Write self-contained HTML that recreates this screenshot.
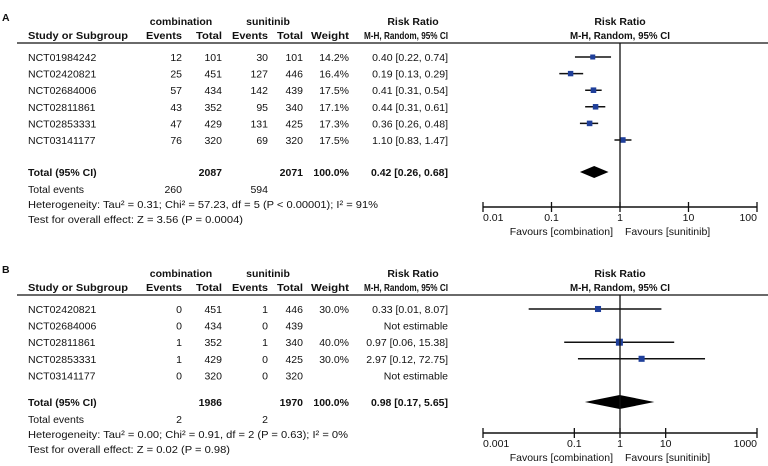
<!DOCTYPE html>
<html><head><meta charset="utf-8"><style>
body{margin:0;background:#fff}
svg{display:block;font-family:"Liberation Sans",Arial,sans-serif;font-size:10.5px;fill:#111}
.b{font-weight:bold}
</style></head><body>
<svg id="c" width="768" height="466" viewBox="0 0 768 466"></svg>
<script>
const studiesA=["NCT01984242","NCT02420821","NCT02684006","NCT02811861","NCT02853331","NCT03141177"];
const ev1A=["12","25","57","43","47","76"];
const tot1A=["101","451","434","352","429","320"];
const ev2A=["30","127","142","95","131","69"];
const tot2A=["101","446","439","340","425","320"];
const weightA=[14.2,16.4,17.5,17.1,17.3,17.5];
const rrA=[0.40,0.19,0.41,0.44,0.36,1.10];
const loA=[0.22,0.13,0.31,0.31,0.26,0.83];
const hiA=[0.74,0.29,0.54,0.61,0.48,1.47];
const totalA=[0.42,0.26,0.68];
const ticksA=["0.01","0.1","1","10","100"];

const studiesB=["NCT02420821","NCT02684006","NCT02811861","NCT02853331","NCT03141177"];
const ev1B=["0","0","1","1","0"];
const tot1B=["451","434","352","429","320"];
const ev2B=["1","0","1","0","0"];
const tot2B=["446","439","340","425","320"];
const weightB=[30.0,null,40.0,30.0,null];
const rrB=[0.33,null,0.97,2.97,null];
const loB=[0.01,null,0.06,0.12,null];
const hiB=[8.07,null,15.38,72.75,null];
const totalB=[0.98,0.17,5.65];
const ticksB=["0.001","0.1","1","10","1000"];

const svg=document.getElementById('c');
const NS="http://www.w3.org/2000/svg";
function el(tag,attrs,name,txt){const e=document.createElementNS(NS,tag);for(const k in attrs)e.setAttribute(k,attrs[k]);


if(txt!==undefined)e.textContent=txt;svg.appendChild(e);return e;}
function t(x,y,s,name,anchor,bold,len){const a={x:x,y:y,'text-anchor':anchor||'start',class:bold?'b':''};
 if(len){a.textLength=len;a.lengthAdjust='spacingAndGlyphs';}
 return el('text',a,name,s);}
function f2(v){return v.toFixed(2);}

function panel(o){
  const X0=483,X1=757;
  const lmin=Math.log10(o.min),lmax=Math.log10(o.max);
  const xs=v=>X0+(Math.log10(v)-lmin)/(lmax-lmin)*(X1-X0);
  const y0=o.y0;
  t(2,y0-24,o.label,'panel-label','start',true);
  t(181,y0-20,'combination','group-header-combination','middle',true);
  t(268,y0-20,'sunitinib','group-header-sunitinib','middle',true);
  t(413,y0-20,'Risk Ratio','rr-header','middle',true);
  t(620,y0-20,'Risk Ratio','plot-header','middle',true);
  t(28,y0-6,'Study or Subgroup','study-header','start',true,100);
  t(182,y0-6,'Events','events-header','end',true,36);
  t(222,y0-6,'Total','total-header','end',true,26);
  t(268,y0-6,'Events','events-header','end',true,36);
  t(303,y0-6,'Total','total-header','end',true,26);
  t(349,y0-6,'Weight','weight-header','end',true,38);
  t(448,y0-6,'M-H, Random, 95% CI','rr-ci-header','end',true,84);
  t(620,y0-6,'M-H, Random, 95% CI','plot-ci-header','middle',true,100);
  el('line',{x1:17,x2:768,y1:y0-2,y2:y0-2,stroke:'#111','stroke-width':1.3},'header-rule');
  const rowY=i=>y0+12+i*16.6;
  o.st.forEach((s,i)=>{
    const y=rowY(i)+4;
    t(28,y,s,'study-name');
    t(182,y,o.e1[i],'events-combination','end');
    t(222,y,o.t1[i],'total-combination','end');
    t(268,y,o.e2[i],'events-sunitinib','end');
    t(303,y,o.t2[i],'total-sunitinib','end');
    if(o.w[i]!=null)t(349,y,o.w[i].toFixed(1)+'%','weight','end');
    if(o.rr[i]!=null){
      t(448,y,f2(o.rr[i])+' ['+f2(o.lo[i])+', '+f2(o.hi[i])+']','risk-ratio-ci','end');
      const cy=rowY(i);
      el('line',{x1:xs(o.lo[i]),x2:xs(o.hi[i]),y1:cy,y2:cy,stroke:'#111','stroke-width':1.5},'ci-line');
      const sz=o.sq*Math.sqrt(o.w[i]/o.wref);
      el('rect',{x:xs(o.rr[i])-sz/2,y:cy-sz/2,width:sz,height:sz,fill:'#1f3f9a'},'point-estimate');
    } else t(448,y,'Not estimable','risk-ratio-ci','end');
  });
  const ty=o.totY;
  t(28,ty+4,'Total (95% CI)','total-label','start',true);
  t(222,ty+4,o.tt1,'total-combination','end',true);
  t(303,ty+4,o.tt2,'total-sunitinib','end',true);
  t(349,ty+4,'100.0%','total-weight','end',true);
  t(448,ty+4,f2(o.tot[0])+' ['+f2(o.tot[1])+', '+f2(o.tot[2])+']','total-risk-ratio','end',true);
  const dh=o.dh;
  el('polygon',{points:`${xs(o.tot[1])},${ty} ${xs(o.tot[0])},${ty-dh} ${xs(o.tot[2])},${ty} ${xs(o.tot[0])},${ty+dh}`,fill:'#000'},'pooled-diamond');
  t(28,ty+21,'Total events','total-events-label');
  t(182,ty+21,o.te1,'total-events-combination','end');
  t(268,ty+21,o.te2,'total-events-sunitinib','end');
  t(28,ty+36,o.het,'heterogeneity-text','start',false,o.hetLen);
  t(28,ty+51,o.test,'overall-effect-text','start',false,o.testLen);
  const ay=o.axY;
  el('line',{x1:xs(1),x2:xs(1),y1:y0-2,y2:ay,stroke:'#111','stroke-width':1.3},'null-line');
  el('line',{x1:X0,x2:X1,y1:ay,y2:ay,stroke:'#111','stroke-width':1.5},'x-axis');
  o.ticks.forEach(s=>{const x=xs(parseFloat(s));
    el('line',{x1:x,x2:x,y1:ay-5,y2:ay+5,stroke:'#111','stroke-width':1.3},'x-tick');
    t(x,ay+14,s,'x-tick-label',x<490?'start':(x>750?'end':'middle'));});
  t(613,ay+28,'Favours [combination]','favours-combination-label','end');
  t(625,ay+28,'Favours [sunitinib]','favours-sunitinib-label','start');
}
panel({label:'A',y0:45,min:0.01,max:100,st:studiesA,e1:ev1A,t1:tot1A,e2:ev2A,t2:tot2A,w:weightA,rr:rrA,lo:loA,hi:hiA,tot:totalA,
 totY:172,tt1:'2087',tt2:'2071',te1:'260',te2:'594',sq:5.5,wref:17,dh:6,axY:207,ticks:ticksA,hetLen:350,testLen:215,
 het:'Heterogeneity: Tau² = 0.31; Chi² = 57.23, df = 5 (P < 0.00001); I² = 91%',test:'Test for overall effect: Z = 3.56 (P = 0.0004)'});
panel({label:'B',y0:297,min:0.001,max:1000,st:studiesB,e1:ev1B,t1:tot1B,e2:ev2B,t2:tot2B,w:weightB,rr:rrB,lo:loB,hi:hiB,tot:totalB,
 totY:402,tt1:'1986',tt2:'1970',te1:'2',te2:'2',sq:7,wref:40,dh:7,axY:433,ticks:ticksB,hetLen:320,testLen:202,
 het:'Heterogeneity: Tau² = 0.00; Chi² = 0.91, df = 2 (P = 0.63); I² = 0%',test:'Test for overall effect: Z = 0.02 (P = 0.98)'});
</script>
</body></html>
